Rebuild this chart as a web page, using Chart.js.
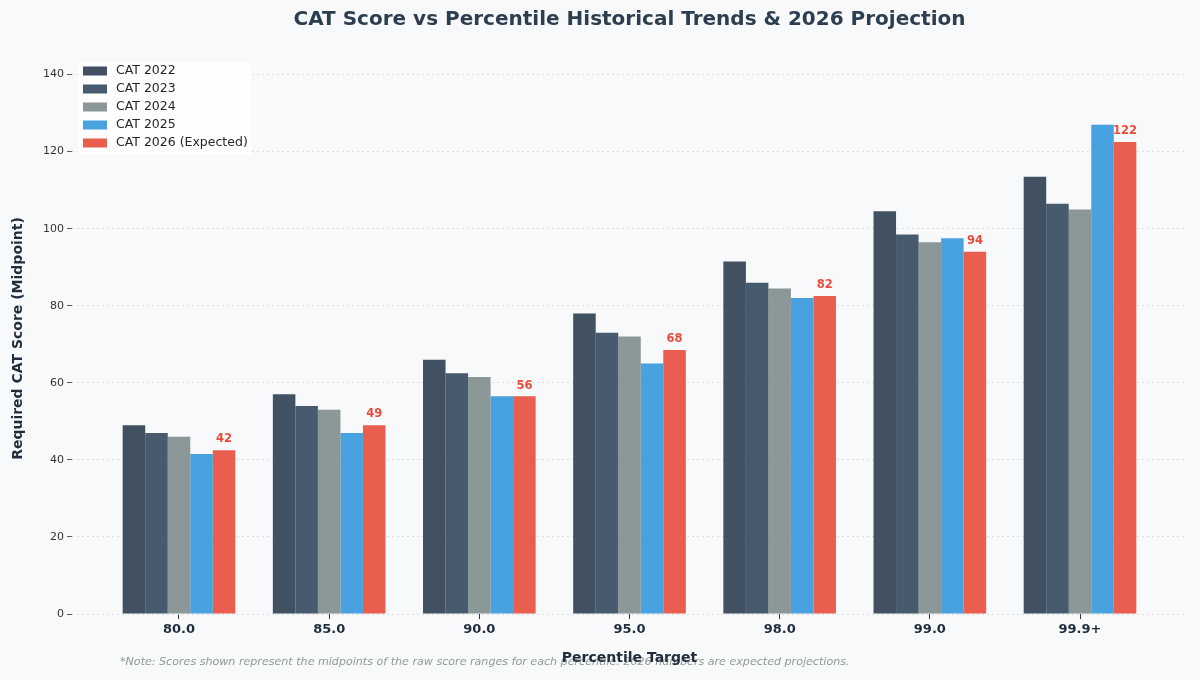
<!DOCTYPE html>
<html>
<head>
<meta charset="utf-8">
<script src="https://cdn.jsdelivr.net/npm/chart.js@4/dist/chart.umd.min.js"></script>
<style>
  html, body { margin: 0; padding: 0; background: #f8f9fa; }
  #wrap { width: 1200px; height: 680px; }
</style>
</head>
<body>
<div id="wrap"><canvas id="chart" width="1200" height="680"></canvas></div>
<script>
// categories (percentile targets)
const percentiles = ['80.0', '85.0', '90.0', '95.0', '98.0', '99.0', '99.9+'];

// midpoint scores per year
const cat2022 = [49, 57, 66, 78, 91.5, 104.5, 113.5];
const cat2023 = [47, 54, 62.5, 73, 86, 98.5, 106.5];
const cat2024 = [46, 53, 61.5, 72, 84.5, 96.5, 105];
const cat2025 = [41.5, 47, 56.5, 65, 82, 97.5, 127];
const cat2026 = [42.5, 49, 56.5, 68.5, 82.5, 94, 122.5];

const seriesNames = ['CAT 2022', 'CAT 2023', 'CAT 2024', 'CAT 2025', 'CAT 2026 (Expected)'];
const seriesColors = [
  'rgba(44, 62, 80, 0.9)',
  'rgba(52, 73, 94, 0.9)',
  'rgba(127, 140, 141, 0.9)',
  'rgba(52, 152, 219, 0.9)',
  'rgba(231, 76, 60, 0.9)'
];

const yTicks = [0, 20, 40, 60, 80, 100, 120, 140];

const noteText = '*Note: Scores shown represent the midpoints of the raw score ranges for each percentile. 2026 numbers are expected projections.';

const FONT = "'DejaVu Sans', sans-serif";

function toPoints(values) {
  return values.map((v, i) => ({ x: i, y: v }));
}

const allSeries = [cat2022, cat2023, cat2024, cat2025, cat2026];

// background + footnote
const backdrop = {
  id: 'backdrop',
  beforeDraw(chart) {
    const ctx = chart.ctx;
    ctx.save();
    ctx.fillStyle = '#f8f9fa';
    ctx.fillRect(0, 0, chart.width, chart.height);
    ctx.font = 'italic 11.1px ' + FONT;
    ctx.fillStyle = '#8e9a9b';
    ctx.textBaseline = 'middle';
    ctx.textAlign = 'left';
    ctx.fillText(noteText, 120, 662);
    ctx.restore();
  }
};

// value labels over the 2026 bars + legend box
const overlay = {
  id: 'overlay',
  afterDatasetsDraw(chart) {
    const ctx = chart.ctx;
    const meta = chart.getDatasetMeta(4);
    ctx.save();
    ctx.font = 'bold 11.5px ' + FONT;
    ctx.fillStyle = '#e74c3c';
    ctx.textAlign = 'center';
    ctx.textBaseline = 'bottom';
    meta.data.forEach((bar, i) => {
      ctx.fillText(String(Math.floor(cat2026[i])), bar.x, bar.y - 5);
    });
    ctx.restore();

    // legend in the upper left of the plot
    const area = chart.chartArea;
    const x0 = area.left + 6, y0 = area.top - 1;
    ctx.save();
    ctx.fillStyle = 'rgba(255,255,255,0.85)';
    ctx.fillRect(x0, y0, 173, 93);
    ctx.font = '12.5px ' + FONT;
    ctx.textBaseline = 'middle';
    ctx.textAlign = 'left';
    seriesNames.forEach((name, i) => {
      const cy = y0 + 9 + i * 18;
      ctx.fillStyle = seriesColors[i];
      ctx.fillRect(x0 + 5, cy - 4.5, 24, 9);
      ctx.fillStyle = '#262626';
      ctx.fillText(name, x0 + 38, cy);
    });
    ctx.restore();
  }
};

new Chart(document.getElementById('chart'), {
  type: 'bar',
  data: {
    datasets: allSeries.map((values, i) => ({
      label: seriesNames[i],
      data: toPoints(values),
      backgroundColor: seriesColors[i],
      borderWidth: 0,
      categoryPercentage: 0.75,
      barPercentage: 1.0
    }))
  },
  options: {
    responsive: false,
    animation: false,
    layout: { padding: { left: 0, right: 13, top: 0, bottom: 0 } },
    plugins: {
      legend: { display: false },
      tooltip: { enabled: false },
      title: {
        display: true,
        fullSize: false,
        text: 'CAT Score vs Percentile Historical Trends & 2026 Projection',
        color: '#2c3e50',
        font: { family: FONT, size: 20, weight: 'bold' },
        padding: { top: 8, bottom: 31 }
      }
    },
    scales: {
      x: {
        type: 'linear',
        offset: false,
        min: -0.7125,
        max: 6.7125,
        afterBuildTicks(scale) {
          scale.ticks = percentiles.map((p, i) => ({ value: i }));
        },
        afterFit(scale) { scale.height = 66; },
        ticks: {
          callback: (v) => percentiles[v],
          color: '#1f2d3d',
          font: { family: FONT, size: 13, weight: 'bold' },
          padding: 3,
          maxRotation: 0,
          autoSkip: false
        },
        grid: { offset: false, drawOnChartArea: false, drawTicks: true, tickLength: 5, tickColor: '#333' },
        border: { display: false },
        title: {
          display: true,
          text: 'Percentile Target',
          color: '#1f2d3d',
          font: { family: FONT, size: 14, weight: 'bold' },
          padding: { top: 0, bottom: 13.6 }
        }
      },
      y: {
        min: 0,
        max: 143,
        afterBuildTicks(scale) {
          scale.ticks = yTicks.map(v => ({ value: v }));
        },
        afterFit(scale) { scale.width = 72; },
        ticks: {
          color: '#333',
          font: { family: FONT, size: 11 },
          padding: 3
        },
        grid: { color: '#d3d6da', lineWidth: 0.8, drawTicks: true, tickLength: 5, tickColor: '#333' },
        border: { display: false, dash: [2, 3] },
        title: {
          display: true,
          text: 'Required CAT Score (Midpoint)',
          color: '#1f2d3d',
          font: { family: FONT, size: 14, weight: 'bold' },
          padding: { top: 9.6, bottom: 0 }
        }
      }
    }
  },
  plugins: [backdrop, overlay]
});
</script>
</body>
</html>
